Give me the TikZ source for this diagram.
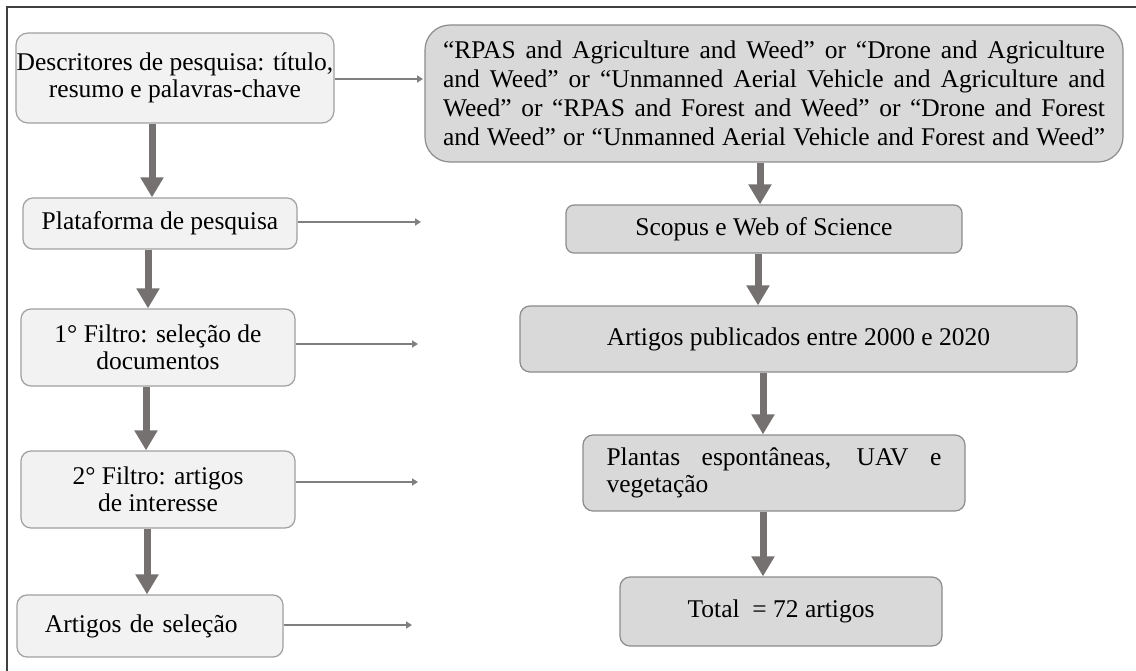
\documentclass[tikz,border=0pt]{standalone}
\usepackage{fontspec}
\setmainfont{Liberation Serif}
\usetikzlibrary{arrows.meta}
\definecolor{lfill}{RGB}{242,242,242}
\definecolor{rfill}{RGB}{217,217,217}
\definecolor{lbord}{RGB}{160,160,160}
\definecolor{rbord}{RGB}{140,140,140}
\definecolor{arrc}{RGB}{118,113,113}
\definecolor{thinc}{RGB}{127,127,127}
\definecolor{framec}{RGB}{64,64,64}
\newcommand{\bodyfont}{\fontsize{25.5}{27}\selectfont}
\begin{document}
\begin{tikzpicture}[x=1pt,y=-1pt,
  lbox/.style={draw=lbord, fill=lfill, line width=1.2pt, rounded corners=10pt, inner sep=0pt, align=center, font=\bodyfont},
  rbox/.style={draw=rbord, fill=rfill, line width=1.2pt, rounded corners=10pt, inner sep=0pt, align=center, font=\bodyfont},
  thickarr/.style={draw=arrc, line width=7pt, -{Triangle[width=22pt,length=20pt]}},
  thinarr/.style={draw=thinc, line width=2pt, -{Triangle[width=7pt,length=6pt]}}]
\useasboundingbox (0,0) rectangle (1136,671);
\fill[white] (0,0) rectangle (1136,671);
% frame
\draw[framec, line width=1.5pt] (7,671) -- (7,7) -- (1136,7);
% left column
\node[lbox, minimum width=318pt, minimum height=90pt, rounded corners=12pt] (L1) at (175,78) {Descritores de pesquisa: título,\\resumo e palavras-chave};
\node[lbox, minimum width=274pt, minimum height=51pt] (L2) at (160,223.5) {Plataforma de pesquisa};
\node[lbox, minimum width=274pt, minimum height=77pt] (L3) at (158,347.5) {1° Filtro: seleção de\\documentos};
\node[lbox, minimum width=274pt, minimum height=77pt] (L4) at (158,489.5) {2° Filtro: artigos\\de interesse};
\node[lbox, minimum width=266pt, minimum height=62pt, text width=210pt, align=left, inner xsep=28pt] (L5) at (150,626) {Artigos de seleção};
% right column
\node[rbox, minimum width=698pt, minimum height=137pt, rounded corners=25pt] (R1) at (774,93.5)
  {\parbox{662pt}{\fontsize{25.5}{29}\selectfont\hyphenpenalty=10000\parfillskip=0pt
  “RPAS and Agriculture and Weed” or “Drone and Agriculture\linebreak
  and Weed” or “Unmanned Aerial Vehicle and Agriculture and\linebreak
  Weed” or “RPAS and Forest and Weed” or “Drone and Forest\linebreak
  and Weed” or “Unmanned Aerial Vehicle and Forest and Weed”}};
\node[rbox, minimum width=396pt, minimum height=48pt, rounded corners=8pt] (R2) at (764,229) {Scopus e Web of Science};
\node[rbox, minimum width=557pt, minimum height=66pt] (R3) at (798.5,339) {Artigos publicados entre 2000 e 2020};
\node[rbox, minimum width=382pt, minimum height=76pt] (R4) at (774,473)
  {\parbox{335pt}{\fontsize{25.5}{27}\selectfont\hyphenpenalty=10000 Plantas espontâneas, UAV e\linebreak vegetação}};
\node[rbox, minimum width=322pt, minimum height=69pt] (R5) at (781,611.5) {Total~~= 72 artigos};
% thick arrows
\draw[thickarr] (L1.south -| 152,0) -- (L2.north -| 152,0);
\draw[thickarr] (L2.south -| 148,0) -- (L3.north -| 148,0);
\draw[thickarr] (L3.south -| 146,0) -- (L4.north -| 146,0);
\draw[thickarr] (L4.south -| 147,0) -- (L5.north -| 147,0);
\draw[thickarr] (R1.south -| 760,0) -- (R2.north -| 760,0);
\draw[thickarr] (R2.south -| 758,0) -- (R3.north -| 758,0);
\draw[thickarr] (R3.south -| 763,0) -- (R4.north -| 763,0);
\draw[thickarr] (R4.south -| 763,0) -- (R5.north -| 763,0);
% thin arrows
\coordinate (e1) at (423,79);
\coordinate (e2) at (421,222);
\coordinate (e3) at (418,344);
\coordinate (e4) at (418,482);
\coordinate (e5) at (412,625);
\draw[thinarr] (L1.east |- e1) -- (e1);
\draw[thinarr] (L2.east |- e2) -- (e2);
\draw[thinarr] (L3.east |- e3) -- (e3);
\draw[thinarr] (L4.east |- e4) -- (e4);
\draw[thinarr] (L5.east |- e5) -- (e5);
\end{tikzpicture}
\end{document}
